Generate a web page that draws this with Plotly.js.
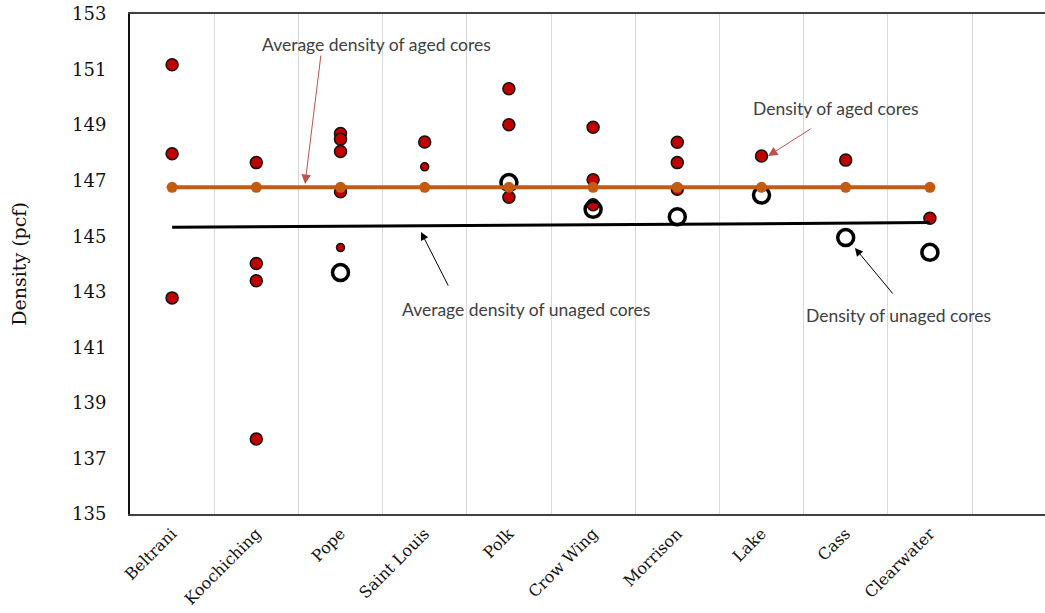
<!DOCTYPE html>
<html>
<head>
<meta charset="utf-8">
<script src="https://cdn.plot.ly/plotly-3.0.1.min.js"></script>
<style>html,body{margin:0;padding:0;background:#fff;}#chart{width:1045px;height:613px;}</style>
</head>
<body>
<div id="chart"></div>
<script>
// Categories (counties)
const counties = ["Beltrani","Koochiching","Pope","Saint Louis","Polk","Crow Wing","Morrison","Lake","Cass","Clearwater"];

// Density of aged cores (large red dots)
const agedX = ["Beltrani","Beltrani","Beltrani",
  "Koochiching","Koochiching","Koochiching","Koochiching",
  "Pope","Pope","Pope","Pope",
  "Saint Louis",
  "Polk","Polk","Polk",
  "Crow Wing","Crow Wing","Crow Wing",
  "Morrison","Morrison","Morrison",
  "Lake","Cass","Clearwater"];
const agedY = [151.17,147.97,142.78,
  147.65,144.02,143.40,137.70,
  148.70,148.49,148.05,146.60,
  148.39,
  150.31,149.01,146.40,
  148.92,147.03,146.13,
  148.38,147.65,146.69,
  147.89,147.74,145.65];

// Density of aged cores (small red dots)
const agedSmallX = ["Pope","Saint Louis"];
const agedSmallY = [144.59,147.50];

// Density of unaged cores (open circles)
const unagedX = ["Pope","Polk","Crow Wing","Morrison","Lake","Cass","Clearwater"];
const unagedY = [143.69,146.93,145.97,145.70,146.48,144.95,144.42];

// Average density of aged cores
const avgAgedY = [146.76,146.76,146.76,146.76,146.76,146.76,146.76,146.76,146.76,146.76];

// Average density of unaged cores
const avgUnagedX = ["Beltrani","Clearwater"];
const avgUnagedY = [145.32,145.49];

const yTicks = [135,137,139,141,143,145,147,149,151,153];

const traces = [
  {type:"scatter", mode:"markers", x:agedX, y:agedY, name:"Density of aged cores",
   marker:{size:12, color:"#c00000", line:{color:"#111", width:1.5}}},
  {type:"scatter", mode:"markers", x:agedSmallX, y:agedSmallY, name:"Density of aged cores (small)",
   marker:{size:8, color:"#c00000", line:{color:"#111", width:1.5}}},
  {type:"scatter", mode:"markers", x:unagedX, y:unagedY, name:"Density of unaged cores",
   marker:{size:16, color:"rgba(255,255,255,0)", line:{color:"#000", width:3.5}}},
  {type:"scatter", mode:"lines", x:avgUnagedX, y:avgUnagedY, name:"Average density of unaged cores",
   line:{color:"#000", width:3}},
  {type:"scatter", mode:"lines+markers", x:counties, y:avgAgedY, name:"Average density of aged cores",
   line:{color:"#c55a11", width:4}, marker:{size:11, color:"#c55a11"}}
];

const annFont = {family:"Lato, 'Open Sans', sans-serif", size:17.5, color:"#404040"};
const serif = "'DejaVu Serif', serif";

const layout = {
  width:1045, height:613,
  margin:{l:130, r:0, t:14, b:99},
  paper_bgcolor:"#fff", plot_bgcolor:"#fff",
  showlegend:false,
  xaxis:{
    type:"category", categoryorder:"array", categoryarray:counties,
    range:[-0.5, 10.367],
    tickson:"boundaries", showgrid:true, gridcolor:"#d9d9d9", gridwidth:1,
    ticks:"", showline:true, linecolor:"#404040", linewidth:2, mirror:true,
    tickangle:-45, ticklabelstandoff:2,
    tickfont:{family:serif, size:16, color:"#111"},
    zeroline:false, fixedrange:true
  },
  yaxis:{
    range:[135,153], tickvals:yTicks, ticktext:yTicks.map(String),
    showgrid:false, zeroline:false, ticks:"", ticklabelstandoff:18,
    showline:true, linecolor:"#111", linewidth:2,
    tickfont:{family:serif, size:18, color:"#111"},
    title:{text:"Density (pcf)", standoff:40, font:{family:serif, size:19, color:"#111"}},
    automargin:false, fixedrange:true
  },
  annotations:[
    {xref:"paper", yref:"paper", x:0.2699, y:0.94, xanchor:"center", yanchor:"middle", text:"Average density of aged cores", showarrow:false, font:annFont},
    {xref:"paper", yref:"paper", x:0.1913, y:0.66, ax:16, ay:-130, text:"", showarrow:true,
     arrowhead:2, arrowsize:1.9, arrowwidth:1, arrowcolor:"#c0504d"},
    {xref:"paper", yref:"paper", x:0.771, y:0.81, xanchor:"center", yanchor:"middle", text:"Density of aged cores", showarrow:false, font:annFont},
    {xref:"paper", yref:"paper", x:0.6973, y:0.716, ax:44, ay:-28, text:"", showarrow:true,
     arrowhead:2, arrowsize:1.9, arrowwidth:1, arrowcolor:"#c0504d"},
    {xref:"paper", yref:"paper", x:0.4323, y:0.4094, xanchor:"center", yanchor:"middle", text:"Average density of unaged cores", showarrow:false, font:annFont},
    {xref:"paper", yref:"paper", x:0.318, y:0.564, ax:28, ay:55, text:"", showarrow:true,
     arrowhead:2, arrowsize:1.6, arrowwidth:1, arrowcolor:"#000"},
    {xref:"paper", yref:"paper", x:0.8404, y:0.398, xanchor:"center", yanchor:"middle", text:"Density of unaged cores", showarrow:false, font:annFont},
    {xref:"paper", yref:"paper", x:0.7923, y:0.532, ax:39, ay:47, text:"", showarrow:true,
     arrowhead:2, arrowsize:1.6, arrowwidth:1, arrowcolor:"#000"}
  ]
};

Plotly.newPlot("chart", traces, layout, {displayModeBar:false, staticPlot:true});
</script>
</body>
</html>
